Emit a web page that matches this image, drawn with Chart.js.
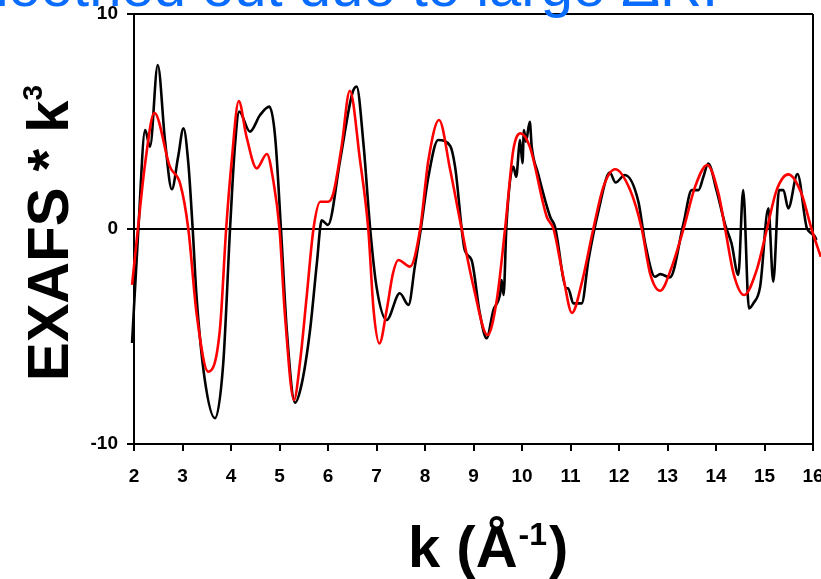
<!DOCTYPE html>
<html lang="en">
<head>
    <meta charset="UTF-8">
    <title>EXAFS * k3</title>
    <script src="https://cdn.jsdelivr.net/npm/chart.js"></script>
    <style>
        html, body { margin: 0; padding: 0; background: #fff; }
        #wrap { width: 821px; height: 579px; }
    </style>
</head>
<body>
<div id="wrap"><canvas id="exafs" width="821" height="579"></canvas></div>

<script>
    // experimental curve (black)
    const kExp = [1.96, 2.09, 2.23, 2.33, 2.49, 2.64, 2.78, 2.91, 3.02, 3.12, 3.21, 3.29, 3.46, 3.67, 3.84, 3.98,
        4.08, 4.17, 4.39, 4.60, 4.79, 4.91, 5.03, 5.15, 5.32, 5.46, 5.63, 5.77, 5.87, 6.00, 6.25, 6.50, 6.59,
        6.73, 6.87, 7.00, 7.21, 7.48, 7.66, 7.79, 7.90, 8.07, 8.27, 8.52, 8.62, 8.82, 8.96, 9.13, 9.27, 9.41,
        9.55, 9.58, 9.62, 9.68, 9.82, 9.88, 9.94, 9.96, 10.01, 10.04, 10.08, 10.16, 10.20, 10.33, 10.58, 10.68,
        10.92, 10.95, 11.06, 11.23, 11.37, 11.58, 11.81, 11.93, 12.12, 12.40, 12.54, 12.74, 12.85, 13.05, 13.33,
        13.50, 13.64, 13.74, 13.84, 14.01, 14.19, 14.32, 14.46, 14.56, 14.68, 14.77, 14.91, 15.08, 15.18, 15.30,
        15.39, 15.49, 15.68, 15.88, 16.07, 16.16];
    const chiExp = [-5.3, 0, 4.6, 3.83, 7.63, 4.1, 1.85, 3.36, 4.68, 3.06, 0, -3.15, -7.02, -8.8, -6.25, 0,
        3.83, 5.46, 4.53, 5.3, 5.69, 4.29, 0, -4.7, -8.08, -7.18, -4.7, -1.6, 0.4, 0.19, 3.2, 6.3, 6.62,
        3.99, 0, -2.68, -4.23, -2.99, -3.53, -1.75, -0.2, 2.43, 4.14, 3.86, 2.9, -0.98, -1.44, -3.92, -5.08, -3.77,
        -2.99, -2.37, -3.07, 0.2, 2.9, 2.43, 3.83, 4.14, 3.06, 4.6, 4.06, 4.99, 3.83, 2.59, 0.57, 0.1,
        -2.76, -2.76, -3.46, -3.46, -1.44, 0.88, 2.62, 2.16, 2.51, 1.27, -0.67, -2.22, -2.1, -2.25, 0.26,
        1.81, 1.81, 2.43, 3.05, 1.81, 0.19, -0.67, -2.14, 1.81, -3.69, -3.46, -2.68, 0.96, -2.45, 1.81,
        1.81, 0.96, 2.56, 0, -0.51, -2.22];

    // fit curve (red)
    const kFit = [1.96, 2.08, 2.23, 2.42, 2.74, 2.95, 3.12, 3.29, 3.53, 3.77, 3.90, 4.01, 4.16, 4.32, 4.53, 4.74,
        4.87, 5.00, 5.11, 5.30, 5.42, 5.56, 5.70, 5.84, 6.00, 6.11, 6.28, 6.45, 6.66, 6.83, 6.94, 7.06, 7.21,
        7.34, 7.45, 7.69, 7.90, 8.07, 8.29, 8.52, 8.72, 9.00, 9.29, 9.48, 9.66, 9.82, 9.97, 10.16, 10.51, 10.65,
        10.85, 11.03, 11.23, 11.47, 11.68, 11.92, 12.23, 12.47, 12.64, 12.85, 13.09, 13.33, 13.57, 13.82, 14.05,
        14.19, 14.36, 14.58, 14.84, 15.05, 15.25, 15.49, 15.76, 15.97, 16.16];
    const chiFit = [-2.6, 0, 3.06, 5.41, 2.9, 2.12, 0, -3.92, -6.64, -4.7, 0, 3.06, 5.95, 4.29, 2.82, 3.49,
        2.28, 0, -3.92, -7.95, -6.25, -3.15, 0, 1.27, 1.27, 1.66, 3.83, 6.43, 3.2, 0, -3.77, -5.32, -3.77,
        -2.06, -1.44, -1.75, 0, 3.2, 5.07, 2.74, 0.42, -2.68, -4.93, -3.3, 0.2, 3.67, 4.45, 3.83, 0.57, 0,
        -2.22, -3.9, -2.53, 0, 1.97, 2.78, 1.81, 0, -2.06, -2.87, -1.75, 0, 1.97, 2.98, 1.66,
        0, -2.06, -3.07, -1.9, 0, 1.81, 2.54, 1.66, 0, -1.29];

    const kMin = 2, kMax = 16;
    const yMin = -10, yMax = 10;
    const heading = 'smoothed out due to large \u0394R.';

    const FONT = '"Liberation Sans", Arial, sans-serif';

    function toPoints(xs, ys) {
        return xs.map((x, i) => ({ x: x, y: ys[i] }));
    }

    // headline, axis titles with superscripts
    const textPlugin = {
        id: 'texts',
        afterDraw(chart) {
            const c = chart.ctx;
            c.save();
            c.textBaseline = 'alphabetic';

            c.fillStyle = '#0a6cff';
            c.font = '58px ' + FONT;
            c.textAlign = 'right';
            c.fillText(heading, 718, 6);

            c.fillStyle = '#000';
            c.textAlign = 'left';
            let x = 408;
            c.font = 'bold 58px ' + FONT;
            c.fillText('k (\u00C5', x, 567);
            x += c.measureText('k (\u00C5').width + 1;
            c.font = 'bold 32px ' + FONT;
            c.fillText('-1', x, 545);
            x += c.measureText('-1').width + 2;
            c.font = 'bold 58px ' + FONT;
            c.fillText(')', x, 567);

            c.translate(68, 381);
            c.rotate(-Math.PI / 2);
            c.font = 'bold 58px ' + FONT;
            c.fillText('EXAFS * k', 0, 0);
            const w = c.measureText('EXAFS * k').width;
            c.font = 'bold 28px ' + FONT;
            c.fillText('3', w, -26);
            c.restore();
        }
    };

    const chart = new Chart(document.getElementById('exafs'), {
        type: 'line',
        data: {
            datasets: [
                {
                    label: 'fit',
                    data: toPoints(kFit, chiFit),
                    borderColor: '#ff0000',
                    borderWidth: 2.6,
                    pointRadius: 0,
                    cubicInterpolationMode: 'monotone',
                    clip: false,
                    order: 0
                },
                {
                    label: 'data',
                    data: toPoints(kExp, chiExp),
                    borderColor: '#000000',
                    borderWidth: 2.6,
                    pointRadius: 0,
                    cubicInterpolationMode: 'monotone',
                    clip: false,
                    order: 1
                }
            ]
        },
        options: {
            responsive: false,
            animation: false,
            devicePixelRatio: 1,
            layout: { padding: { top: 14, right: 8, left: 0, bottom: 0 } },
            plugins: {
                legend: { display: false },
                tooltip: { enabled: false }
            },
            scales: {
                x: {
                    type: 'linear',
                    min: kMin,
                    max: kMax,
                    border: { color: '#000', width: 2 },
                    grid: {
                        color: (ctx) => (ctx.tick && ctx.tick.value === kMax ? '#000' : 'rgba(0,0,0,0)'),
                        lineWidth: 2,
                        tickColor: '#000',
                        tickLength: 7,
                        tickWidth: 2
                    },
                    ticks: {
                        stepSize: 1,
                        autoSkip: false,
                        maxRotation: 0,
                        padding: 14,
                        color: '#000',
                        font: { family: FONT, size: 19, weight: 'bold' }
                    },
                    afterFit(scale) {
                        scale.height = 135;
                        scale.paddingLeft = 0;
                        scale.paddingRight = 0;
                    }
                },
                y: {
                    min: yMin,
                    max: yMax,
                    border: { color: '#000', width: 2 },
                    grid: {
                        color: (ctx) => (ctx.tick && ctx.tick.value !== yMin ? '#000' : 'rgba(0,0,0,0)'),
                        lineWidth: 2,
                        tickColor: '#000',
                        tickLength: 7,
                        tickWidth: 2
                    },
                    ticks: {
                        stepSize: 10,
                        padding: 9,
                        color: '#000',
                        font: { family: FONT, size: 19, weight: 'bold' }
                    },
                    afterFit(scale) {
                        scale.width = 134;
                        scale.paddingTop = 0;
                        scale.paddingBottom = 0;
                    }
                }
            }
        },
        plugins: [textPlugin]
    });
</script>
</body>
</html>
